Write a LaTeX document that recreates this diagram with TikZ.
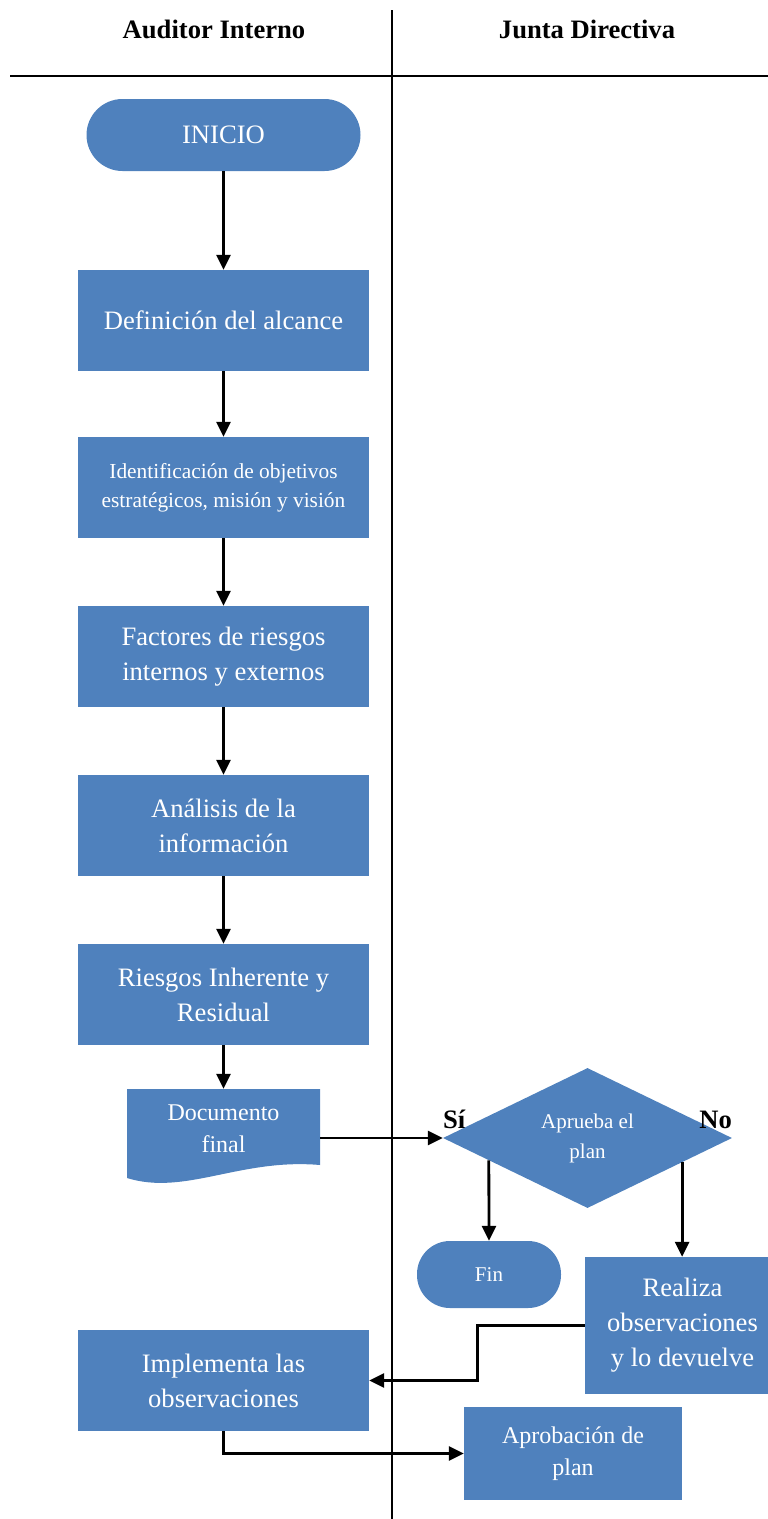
\documentclass[tikz,border=0pt]{standalone}
\usepackage{fontspec}
\setmainfont{Liberation Serif}
\usetikzlibrary{arrows.meta,shapes.geometric,calc}
\definecolor{myblue}{RGB}{79,129,189}
\begin{document}
\begin{tikzpicture}[x=1pt,y=-1pt,
  box/.style={fill=myblue,text=white,inner sep=0pt,minimum width=291pt,minimum height=101pt,align=center,font=\fontsize{26.6}{35}\selectfont},
  small/.style={font=\fontsize{21.4}{29}\selectfont},
  mid/.style={font=\fontsize{24}{32}\selectfont},
  term/.style={fill=myblue,text=white,inner sep=0pt,align=center,rounded corners=33pt},
  arr/.style={-{Triangle[length=15pt,width=14pt]},line width=2.8pt},
  hdr/.style={font=\fontsize{26.6}{30}\selectfont\bfseries,inner sep=0pt}]
\useasboundingbox (0,0) rectangle (768,1519);
% swimlane lines
\draw[line width=2.5pt] (10,76) -- (768,76);
\draw[line width=1.3pt] (392,10) -- (392,1519);
\node[hdr,anchor=base] (h1) at (214,38) {Auditor Interno};
\node[hdr,anchor=base] (h2) at (587,38) {Junta Directiva};
% left lane
\node[term,minimum width=274pt,minimum height=72pt,rounded corners=36pt,font=\fontsize{26.6}{35}\selectfont] (ini) at (223.5,135) {INICIO};
\node[box] (b1) at (223.5,320.5) {Definición del alcance};
\node[box,small] (b2) at (223.5,487.5) {Identificación de objetivos\\estratégicos, misión y visión};
\node[box] (b3) at (223.5,656.5) {Factores de riesgos\\internos y externos};
\node[box] (b4) at (223.5,825.5) {Análisis de la\\información};
\node[box] (b5) at (223.5,994.5) {Riesgos Inherente y\\Residual};
% document shape
\fill[myblue] (127,1089) -- (320,1089) -- (320,1165) .. controls (240,1158) and (185,1196) .. (127,1178) -- cycle;
\node[inner sep=0pt,minimum width=193pt,minimum height=89pt] (doc) at (223.5,1133.5) {};
\node[text=white,mid,align=center,inner sep=0pt] (doctext) at (223.5,1129) {Documento\\final};
\node[box] (impl) at (223.5,1380.5) {Implementa las\\observaciones};
% right lane
\node[diamond,fill=myblue,text=white,inner sep=0pt,minimum width=289pt,minimum height=140pt,aspect=2.06,align=center,font=\fontsize{21}{30}\selectfont] (dia) at (587.5,1138) {Aprueba el\\plan};
\node[hdr,anchor=base west] (si) at (443,1128) {Sí};
\node[hdr,anchor=base east] (no) at (732,1128) {No};
\node[term,minimum width=144pt,minimum height=67pt,font=\fontsize{21}{29}\selectfont] (fin) at (489,1274.5) {Fin};
\node[fill=myblue,inner sep=0pt,minimum width=183pt,minimum height=137pt,
  label={[text=white,align=center,inner sep=0pt,xshift=6pt,font=\fontsize{26.6}{35}\selectfont]center:Realiza\\observaciones\\y lo devuelve}] (real) at (676.5,1325.5) {};
\node[box,mid,minimum width=218pt,minimum height=93pt] (apro) at (573,1453.5) {Aprobación de\\plan};
% connectors
\draw[arr] (ini) -- (b1);
\draw[arr] (b1) -- (b2);
\draw[arr] (b2) -- (b3);
\draw[arr] (b3) -- (b4);
\draw[arr] (b4) -- (b5);
\draw[arr] (b5) -- (doc);
\draw[arr] (doc.east |- dia.west) -- (dia.west);
\coordinate (sistart) at ($(dia.west)!0.318!(dia.south)$);
\coordinate (nostart) at ($(dia.east)!0.346!(dia.south)$);
\draw[arr] (sistart) -- (fin.north);
\draw[arr] (nostart) -- (nostart |- real.north);
\coordinate (bend) at ($(real.west)+(-107,0)$);
\draw[arr] (real.west) -- (bend) |- (impl.east);
\draw[arr] (impl.south) |- (apro.west);
\end{tikzpicture}
\end{document}
